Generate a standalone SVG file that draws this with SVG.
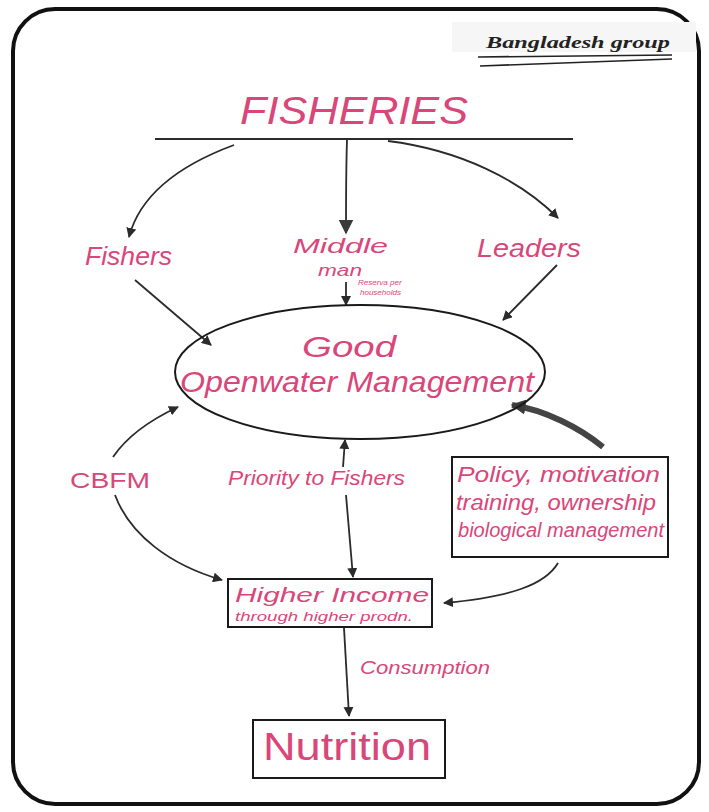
<svg xmlns="http://www.w3.org/2000/svg" width="709" height="812" viewBox="0 0 709 812">
  <style>
    .lbl { font-family: "Liberation Sans", "DejaVu Sans", sans-serif; fill: #d9467a; font-style: italic; }
    .hand { font-family: "Liberation Sans", "DejaVu Sans", sans-serif; fill: #d9467a; }
    .edge { fill: none; stroke: #2b2b2b; stroke-width: 1.8; }
    .box { fill: #ffffff; stroke: #1a1a1a; stroke-width: 2; }
  </style>
  <defs>
    <marker id="arr" viewBox="0 0 10 10" refX="9" refY="5" markerWidth="10" markerHeight="10" orient="auto" markerUnits="userSpaceOnUse">
      <path d="M0,0 L10,5 L0,10 z" fill="#2b2b2b"/>
    </marker>
    <marker id="arrBig" viewBox="0 0 10 10" refX="9" refY="5" markerWidth="15" markerHeight="15" orient="auto" markerUnits="userSpaceOnUse">
      <path d="M0,0 L10,5 L0,10 z" fill="#3a3a3a"/>
    </marker>
  </defs>

  <!-- sheet and rounded frame -->
  <rect x="0" y="0" width="709" height="812" fill="#ffffff"/>
  <rect x="13" y="9" width="686" height="795" rx="42" ry="42" fill="#ffffff" stroke="#111" stroke-width="4"/>

  <!-- group tag, top right -->
  <g id="tag">
    <rect x="452" y="22" width="244" height="30" fill="#f6f6f6"/>
    <text x="486" y="48" font-family="Liberation Serif, serif" font-style="italic" font-weight="bold" font-size="16" fill="#222" textLength="184" lengthAdjust="spacingAndGlyphs">Bangladesh group</text>
    <line x1="478" y1="57" x2="672" y2="55" stroke="#222" stroke-width="1.6"/>
    <line x1="480" y1="66" x2="672" y2="59" stroke="#222" stroke-width="1.6"/>
  </g>

  <!-- connectors -->
  <g id="connectors">
    <line x1="155" y1="139" x2="573" y2="139" stroke="#2b2b2b" stroke-width="1.8"/>
    <path class="edge" d="M234,145 C180,165 140,195 129,237" marker-end="url(#arr)"/>
    <path class="edge" d="M347,140 C346,170 346,200 346,233" marker-end="url(#arrBig)"/>
    <path class="edge" d="M388,141 C460,150 520,180 558,218" marker-end="url(#arr)"/>
    <path class="edge" d="M135,280 L211,345" marker-end="url(#arr)"/>
    <path class="edge" d="M346,282 L346,305" marker-end="url(#arr)"/>
    <path class="edge" d="M557,265 L503,320" marker-end="url(#arr)"/>
    <path class="edge" d="M113,457 C128,435 150,420 178,407" marker-end="url(#arr)"/>
    <path class="edge" d="M115,495 C130,535 170,565 222,580" marker-end="url(#arr)"/>
    <path class="edge" d="M343,467 L345,440" marker-end="url(#arr)"/>
    <path class="edge" d="M346,495 L353,577" marker-end="url(#arr)"/>
    <path d="M603,447 C580,428 545,410 512,405" fill="none" stroke="#444" stroke-width="6" marker-end="url(#arrBig)"/>
    <path class="edge" d="M558,563 C545,585 510,597 444,603" marker-end="url(#arr)"/>
    <path class="edge" d="M344,628 L349,716" marker-end="url(#arr)"/>
  </g>

  <!-- nodes -->
  <g id="fisheries">
    <text class="hand" x="240" y="124" font-size="38" textLength="228" lengthAdjust="spacingAndGlyphs" font-style="italic">FISHERIES</text>
  </g>
  <g id="fishers">
    <text class="lbl" x="85" y="265" font-size="25" textLength="87" lengthAdjust="spacingAndGlyphs">Fishers</text>
  </g>
  <g id="middleman">
    <text class="lbl" x="293" y="253" font-size="21" textLength="95" lengthAdjust="spacingAndGlyphs">Middle</text>
    <text class="lbl" x="318" y="276" font-size="17" textLength="44" lengthAdjust="spacingAndGlyphs">man</text>
    <text class="lbl" x="358" y="285" font-size="8">Reserva per</text>
    <text class="lbl" x="360" y="295" font-size="8">households</text>
  </g>
  <g id="leaders">
    <text class="lbl" x="477" y="257" font-size="25" textLength="104" lengthAdjust="spacingAndGlyphs">Leaders</text>
  </g>
  <g id="management">
    <ellipse cx="360" cy="372" rx="185" ry="67" fill="none" stroke="#1a1a1a" stroke-width="2"/>
    <text class="lbl" x="302" y="357" font-size="30" textLength="94" lengthAdjust="spacingAndGlyphs">Good</text>
    <text class="lbl" x="180" y="392" font-size="29" textLength="354" lengthAdjust="spacingAndGlyphs">Openwater Management</text>
  </g>
  <g id="cbfm">
    <text class="hand" x="70" y="488" font-size="22" textLength="80" lengthAdjust="spacingAndGlyphs">CBFM</text>
  </g>
  <g id="priority">
    <text class="lbl" x="228" y="485" font-size="20" textLength="177" lengthAdjust="spacingAndGlyphs">Priority to Fishers</text>
  </g>
  <g id="policy">
    <rect class="box" x="452" y="457" width="216" height="100"/>
    <text class="lbl" x="457" y="482" font-size="22" textLength="203" lengthAdjust="spacingAndGlyphs">Policy, motivation</text>
    <text class="lbl" x="456" y="510" font-size="22" textLength="200" lengthAdjust="spacingAndGlyphs">training, ownership</text>
    <text class="lbl" x="458" y="537" font-size="20" textLength="206" lengthAdjust="spacingAndGlyphs">biological management</text>
  </g>
  <g id="income">
    <rect class="box" x="228" y="579" width="204" height="48"/>
    <text class="lbl" x="235" y="602" font-size="20" textLength="194" lengthAdjust="spacingAndGlyphs">Higher Income</text>
    <text class="lbl" x="235" y="621" font-size="13" textLength="178" lengthAdjust="spacingAndGlyphs">through higher prodn.</text>
  </g>
  <g id="consumption">
    <text class="lbl" x="360" y="674" font-size="19" textLength="130" lengthAdjust="spacingAndGlyphs">Consumption</text>
  </g>
  <g id="nutrition">
    <rect class="box" x="253" y="720" width="192" height="58"/>
    <text class="hand" x="263" y="760" font-size="38" textLength="168" lengthAdjust="spacingAndGlyphs">Nutrition</text>
  </g>
</svg>
